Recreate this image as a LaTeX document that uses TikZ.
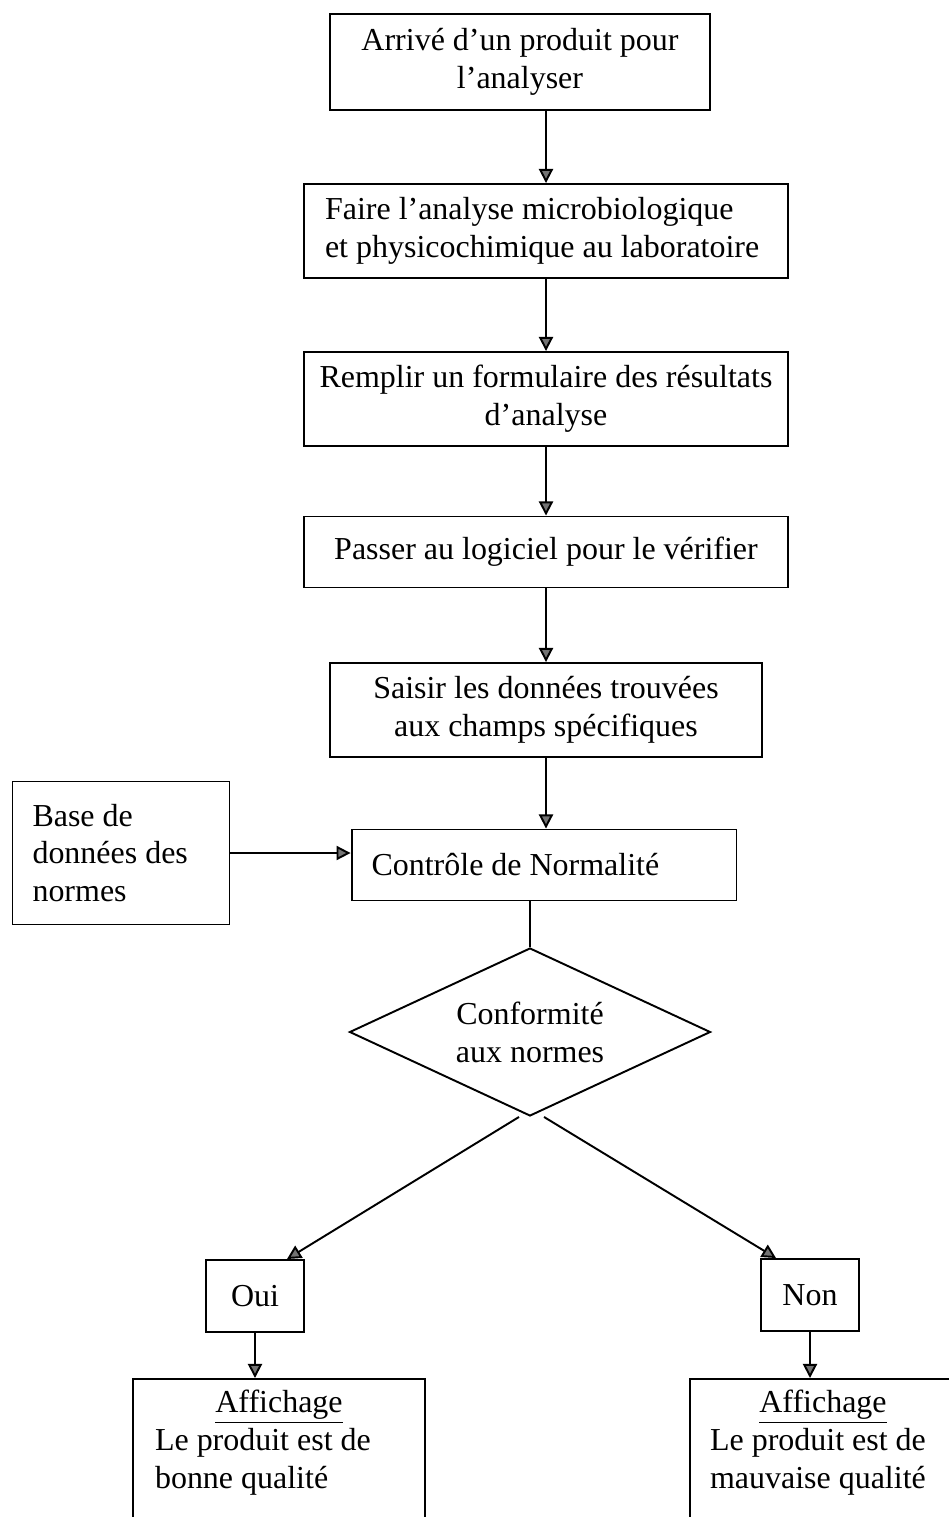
\documentclass[tikz,border=0pt]{standalone}
\usepackage{fontspec}
\setmainfont{Liberation Serif}
\usetikzlibrary{shapes.geometric}
\usetikzlibrary{arrows.meta}

\begin{document}
\begin{tikzpicture}[x=0.02cm,y=-0.02cm,->,>={Triangle[width=8pt,length=8pt,fill=black!55]},
	line width=1.1pt,font=\fontsize{18.2}{21.5}\selectfont,
	main box/.style={rectangle, draw, align=center, inner sep=0pt},
	left box/.style={rectangle, draw, align=flush left, inner ysep=0pt},
	choice/.style={diamond, draw, align=center, inner sep=0pt, shape aspect=2.16, minimum width=7.22cm, minimum height=3.36cm},
	result/.style={rectangle, draw, align=flush left, anchor=north, inner ysep=0.22cm, text depth=3cm}]

	\useasboundingbox (0,0) rectangle (948,1517);

	\node[main box, minimum width=7.6cm, minimum height=1.92cm] at (520,62) (arrive) {Arrivé d’un produit pour\\ l’analyser};
	\node[left box, text width=8.84cm, inner xsep=0.42cm, minimum height=1.88cm] at (546,231) (analyse) {Faire l’analyse microbiologique\\ et physicochimique au laboratoire};
	\node[main box, minimum width=9.68cm, minimum height=1.88cm] at (546,399) (remplir) {Remplir un formulaire des résultats\\ d’analyse};
	\node[main box, minimum width=9.68cm, minimum height=1.42cm] at (546,552) (passer) {Passer au logiciel pour le vérifier};
	\node[main box, minimum width=8.64cm, minimum height=1.88cm] at (546,710) (saisir) {Saisir les données trouvées\\ aux champs spécifiques};
	\node[left box, text width=6.9cm, inner xsep=0.4cm, minimum height=1.42cm] at (544,865) (ctrl) {Contrôle de Normalité};
	\node[left box, text width=3.54cm, inner xsep=0.4cm, minimum height=2.86cm] at (121,853) (base) {Base de\\ données des\\ normes};
	\node[choice] at (530,1032) (conf) {Conformité\\ aux normes};
	\node[main box, minimum width=1.96cm, minimum height=1.44cm] at (255,1296) (oui) {Oui};
	\node[main box, minimum width=1.96cm, minimum height=1.44cm] at (810,1295) (non) {Non};
	\node[result, text width=4.96cm, inner xsep=0.44cm] at (279,1378) (bonne) {\makebox[4.96cm]{\underline{Affichage}}\\ Le produit est de\\ bonne qualité};
	\node[result, text width=4.52cm, inner xsep=0.4cm] at (823,1378) (mauvaise) {\makebox[4.52cm]{\underline{Affichage}}\\ Le produit est de\\ mauvaise qualité};

	\path
	(arrive.south -| analyse.north) edge (analyse.north)
	(analyse) edge (remplir)
	(remplir) edge (passer)
	(passer) edge (saisir)
	(saisir.south) edge (saisir.south |- ctrl.north)
	(base.east) edge (base.east -| ctrl.west)
	;
	\path
	(ctrl.south -| conf.north) edge[-] (conf.north)
	([xshift=-0.22cm]conf.south) edge ([xshift=0.64cm]oui.north)
	([xshift=0.28cm]conf.south) edge ([xshift=-0.68cm]non.north)
	(oui.south) edge (oui.south |- bonne.north)
	(non.south) edge (non.south |- mauvaise.north)
	;

\end{tikzpicture}
\end{document}
